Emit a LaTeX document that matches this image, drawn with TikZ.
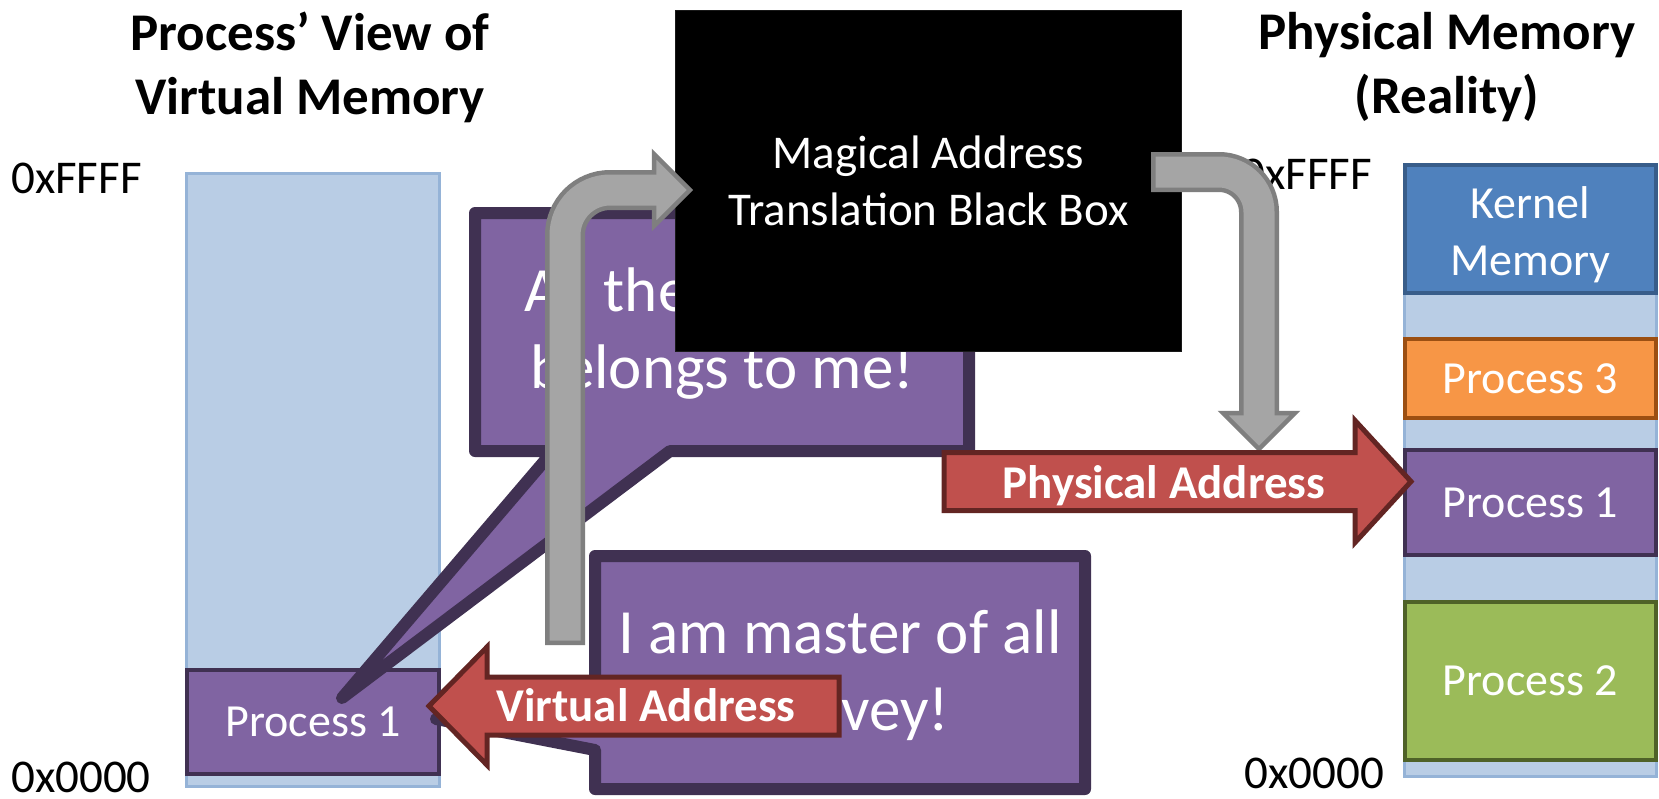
\documentclass[tikz,border=0pt]{standalone}
\usepackage{fontspec}
\setmainfont{Carlito}
\usetikzlibrary{positioning, calc}

\definecolor{vmfill}{HTML}{B9CDE5}
\definecolor{vmline}{HTML}{95B3D7}
\definecolor{kernfill}{HTML}{4F81BD}
\definecolor{kernline}{HTML}{385D8A}
\definecolor{orfill}{HTML}{F79646}
\definecolor{orline}{HTML}{9C4F12}
\definecolor{pufill}{HTML}{8064A2}
\definecolor{puline}{HTML}{403152}
\definecolor{grfill}{HTML}{9BBB59}
\definecolor{grline}{HTML}{4F6228}
\definecolor{rdfill}{HTML}{C0504D}
\definecolor{rdline}{HTML}{632523}
\definecolor{gyfill}{HTML}{A5A5A5}
\definecolor{gyline}{HTML}{7F7F7F}

\begin{document}
\begin{tikzpicture}[
    x=1pt, y=-1pt,
    ttl/.style={font=\fontsize{53}{64}\selectfont\bfseries, align=center, inner sep=0pt},
    hexlbl/.style={font=\fontsize{47}{57}\selectfont, inner sep=0pt},
    colbox/.style={rectangle, fill=vmfill, draw=vmline, line width=3pt},
    membox/.style={rectangle, line width=4pt, outer sep=2pt, minimum width=251pt, text=white, align=center, font=\fontsize{46}{57}\selectfont},
    bubble/.style={fill=pufill, draw=puline, line width=12pt, line join=round},
    bubbletxt/.style={text=white, align=center, inner sep=0pt, font=\fontsize{63}{77}\selectfont},
    gshaft/.style={draw=gyline, line width=40pt},
    gcore/.style={draw=gyfill, line width=31pt},
    ghead/.style={fill=gyfill, draw=gyline, line width=4.5pt, line join=miter},
    addrarrow/.style={fill=rdfill, draw=rdline, line width=5pt, line join=miter},
    addrtxt/.style={text=white, inner sep=0pt, font=\fontsize{47}{57}\selectfont\bfseries}
]
\fill[white] (0,0) rectangle (1659,798);
\useasboundingbox (0,0) rectangle (1659,798);

\node[colbox, minimum width=253pt, minimum height=613pt] (vcol) at (313,480) {};
\node[colbox, minimum width=252pt, minimum height=612pt] (pcol) at (1530.5,470.5) {};

\node[membox, fill=pufill, draw=puline, minimum width=252pt, minimum height=104pt] (vproc) at (313,722) {Process 1};
\node[membox, fill=kernfill, draw=kernline, minimum height=128pt] (kern) at (1530.5,229) {};
\node[membox, draw=none] (kerntxt) at (1530.5,235) {Kernel\\Memory};
\node[membox, fill=orfill, draw=orline, minimum height=79pt, below=42pt of kern] (proc3) {Process 3};
\node[membox, fill=pufill, draw=puline, minimum height=105pt, below=28pt of proc3] (proc1) {Process 1};
\node[membox, fill=grfill, draw=grline, minimum height=158pt, below=43pt of proc1] (proc2) {Process 2};

\node[hexlbl, anchor=base west] (vtop) at (11,193) {0xFFFF};
\node[hexlbl, anchor=base west] (vbot) at (11,792) {0x0000};
\node[hexlbl, anchor=base east] (ptop) at (1372,189) {0xFFFF};
\node[hexlbl, anchor=base east] (pbot) at (1384,788) {0x0000};

\node[ttl] (vtitle) at (310,67) {Process’ View of\\Virtual Memory};
\node[ttl] (ptitle) at (1447,67) {Physical Memory\\(Reality)};

\coordinate (saytip) at (342,698);
\draw[bubble] (475,213) -- (969,213) -- (969,451) -- (670,451) -- (saytip) -- (553,451) -- (475,451) -- cycle;
\node[bubbletxt] (say1) at (722,334) {All the memory\\belongs to me!};

\coordinate (mastip) at (436,719);
\draw[bubble] (595,556) -- (1085,556) -- (1085,789) -- (595,789) -- (595,750) -- (mastip) -- (595,693) -- cycle;
\node[bubbletxt] (say2) at (840,675) {I am master of all\\I survey!};

\node[rectangle, fill=black, draw=black!90, line width=1pt, minimum width=506pt, minimum height=341pt,
      text=white, align=center, font=\fontsize{47}{57}\selectfont] (mabb) at (928.5,181) {Magical Address\\Translation Black Box};

\coordinate (vin) at (565,645);
\coordinate (g1base) at (654,190);
\coordinate (g1tip) at (690,190);
\draw[gshaft, rounded corners=45pt] (vin) |- (g1base);
\draw[ghead] (g1tip) -- ++(-36,-36) -- ++(0,72) -- cycle;
\draw[gcore, rounded corners=45pt] ($(vin)+(0,-4.5)$) |- ($(g1base)+(4,0)$);

\coordinate (pout) at (1151,172);
\coordinate (g2base) at (1259,413);
\coordinate (g2tip) at (1259,449);
\draw[gshaft, rounded corners=40pt] (pout) -| (g2base);
\draw[ghead] (g2tip) -- ++(-36,-36) -- ++(72,0) -- cycle;
\draw[gcore, rounded corners=40pt] ($(pout)+(4.5,0)$) -| ($(g2base)+(0,4)$);

\coordinate (vtail) at (839,706);
\coordinate (vtip) at (429,706);
\draw[addrarrow] (vtail) ++(0,-29) -- ++(-352,0) -- ++(0,-30) -- (vtip) -- ++(58,59) -- ++(0,-30) -- ++(352,0) -- cycle;
\node[addrtxt] (vaddr) at (646,705) {Virtual Address};

\coordinate (ptail) at (944,481.5);
\coordinate (ptip) at (1411,481.5);
\draw[addrarrow] (ptail) ++(0,-29) -- ++(411,0) -- ++(0,-32) -- (ptip) -- ++(-56,61) -- ++(0,-32) -- ++(-411,0) -- cycle;
\node[addrtxt] (paddr) at (1164,486) {Physical Address};
\end{tikzpicture}
\end{document}
